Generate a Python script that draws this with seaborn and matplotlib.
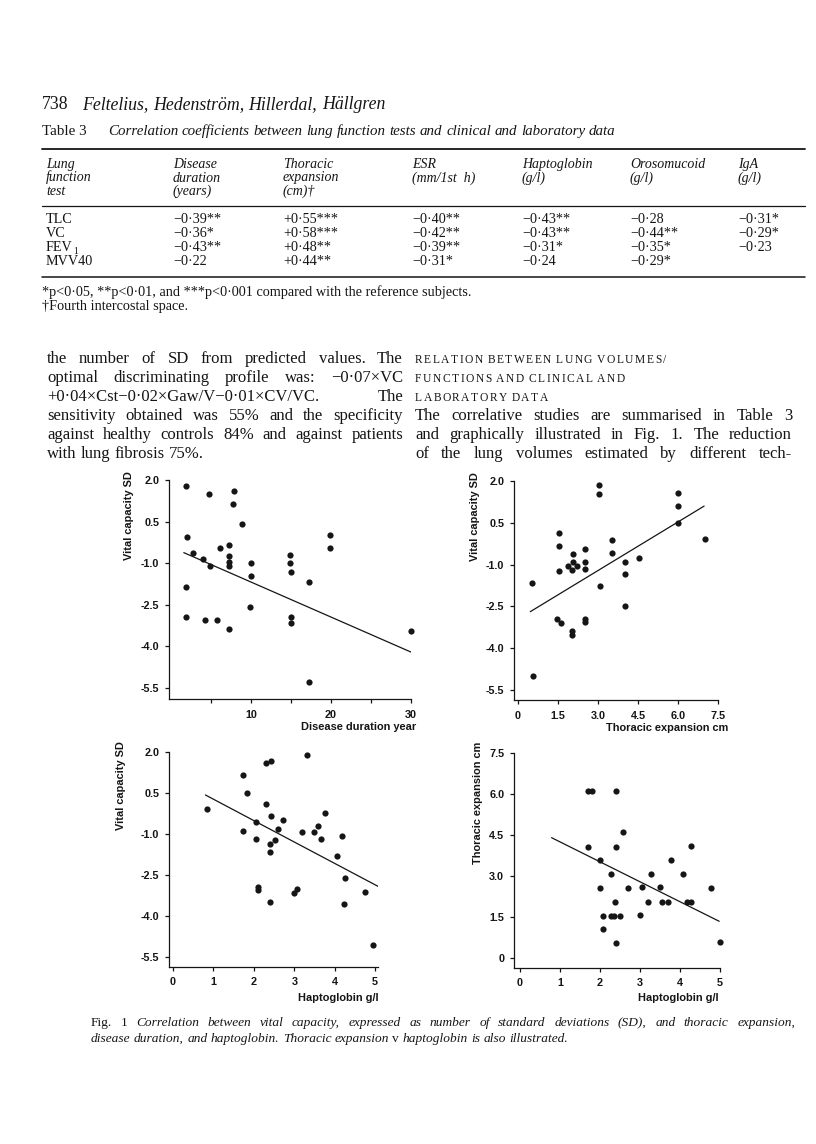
import matplotlib
matplotlib.use("Agg")
import matplotlib.pyplot as plt
import seaborn as sns
from matplotlib.lines import Line2D
from matplotlib.ticker import FixedLocator

# ---------------- data ----------------
# Panel A: disease duration (years) vs vital capacity (SD)
dur_x = [1.9, 2.0, 2.8, 4.0, 1.9, 1.9, 4.2, 4.8, 4.9, 5.8, 6.1, 7.25, 7.25, 7.25, 7.25, 7.2,
         7.9, 7.8, 8.9, 10.0, 10.0, 9.9, 14.9, 14.9, 15.0, 15.0, 15.0, 17.2, 17.2, 19.9, 19.9, 30.0]
dur_vc = [1.8, -0.05, -0.64, -0.86, -1.86, -2.94, -3.04, 1.5, -1.12, -3.04, -0.46, -0.33, -0.74, -0.94, -1.1, -3.38,
          1.6, 1.12, 0.4, -1.0, -1.47, -2.57, -0.72, -1.0, -1.32, -2.93, -3.17, -1.67, -5.27, 0.0, -0.46, -3.44]
dur_fit_x = [1.6, 30.1]
dur_fit_y = [-0.62, -4.22]

# Panel B: thoracic expansion (cm) vs vital capacity (SD)
thx_x = [0.54, 0.56, 1.55, 1.55, 1.54, 1.46, 1.63, 2.05, 2.05, 1.89, 2.04, 2.2, 2.03, 2.03, 2.53, 2.53,
         2.53, 2.53, 2.53, 3.04, 3.04, 3.06, 3.53, 3.53, 4.0, 4.0, 4.0, 4.53, 6.0, 6.0, 6.0, 7.0]
thx_vc = [-1.65, -5.0, 0.15, -0.33, -1.22, -2.96, -3.1, -0.62, -0.9, -1.05, -1.19, -1.05, -3.38, -3.52, -0.45, -0.91,
          -1.17, -2.94, -3.07, 1.86, 1.52, -1.77, -0.12, -0.58, -0.91, -1.33, -2.49, -0.76, 1.58, 1.1, 0.5, -0.07]
thx_fit_x = [0.46, 6.98]
thx_fit_y = [-2.69, 1.10]

# Panel C: haptoglobin (g/l) vs vital capacity (SD)
hap_x = [0.84, 1.74, 1.82, 1.74, 2.04, 2.04, 2.1, 2.1, 2.31, 2.42, 2.4, 2.4, 2.52, 2.59, 2.71, 2.39,
         2.98, 3.07, 3.2, 3.49, 3.58, 3.66, 3.76, 4.18, 4.06, 4.25, 4.24, 4.75, 4.94, 2.31, 2.43, 3.31]
hap_vc = [-0.08, 1.16, 0.5, -0.9, -0.57, -1.19, -2.92, -3.04, 0.1, -0.35, -1.35, -1.67, -1.23, -0.8, -0.49, -3.47,
          -3.16, -3.0, -0.94, -0.94, -0.7, -1.18, -0.23, -1.08, -1.82, -2.61, -3.54, -3.11, -5.07, 1.58, 1.66, 1.89]
hap_fit_x = [0.8, 5.12]
hap_fit_y = [0.43, -2.95]

# Panel D: haptoglobin (g/l) vs thoracic expansion (cm)
hap2_x = [1.71, 1.81, 2.41, 1.71, 2.58, 2.4, 2.0, 2.0, 2.28, 2.08, 2.08, 2.27, 2.36, 2.5, 2.38, 2.39,
          2.69, 3.0, 3.06, 3.28, 3.19, 3.49, 3.55, 3.69, 3.77, 4.07, 4.18, 4.28, 4.27, 4.78, 4.99]
hap2_th = [6.1, 6.1, 6.1, 4.07, 4.59, 4.06, 3.57, 2.56, 3.07, 1.54, 1.04, 1.54, 1.54, 1.54, 2.06, 0.54,
           2.56, 1.56, 2.59, 3.07, 2.06, 2.59, 2.06, 2.06, 3.57, 3.07, 2.06, 2.05, 4.1, 2.55, 0.57]
hap2_fit_x = [0.79, 4.98]
hap2_fit_y = [4.40, 1.34]

# tick labels
vc_ticks = [2.0, 0.5, -1.0, -2.5, -4.0, -5.5]
vc_labels = ["2.0", "0.5", "-1.0", "-2.5", "-4.0", "-5.5"]
dur_ticks = [10, 20, 30]
dur_labels = ["10", "20", "30"]
dur_minor = [5, 15, 25]
thx_ticks = [0, 1.5, 3.0, 4.5, 6.0, 7.5]
thx_labels = ["0", "1.5", "3.0", "4.5", "6.0", "7.5"]
hap_ticks = [0, 1, 2, 3, 4, 5]
hap_labels = ["0", "1", "2", "3", "4", "5"]

# table 3
tab_head = [["Lung", "function", "test"], ["Disease", "duration", "(years)"],
            ["Thoracic", "expansion", "(cm)†"], ["ESR", "(mm/1st  h)"],
            ["Haptoglobin", "(g/l)"], ["Orosomucoid", "(g/l)"], ["IgA", "(g/l)"]]
tab_rows = ["TLC", "VC", "FEV", "MVV40"]
tab_disease = ["−0·39**", "−0·36*", "−0·43**", "−0·22"]
tab_thoracic = ["+0·55***", "+0·58***", "+0·48**", "+0·44**"]
tab_esr = ["−0·40**", "−0·42**", "−0·39**", "−0·31*"]
tab_hapto = ["−0·43**", "−0·43**", "−0·31*", "−0·24"]
tab_oroso = ["−0·28", "−0·44**", "−0·35*", "−0·29*"]
tab_iga = ["−0·31*", "−0·29*", "−0·23", ""]

# ---------------- figure ----------------
sns.set_style("ticks")
plt.rcParams["font.family"] = ["Liberation Sans", "DejaVu Sans"]
W, H = 816, 1144
fig = plt.figure(figsize=(W / 100, H / 100), dpi=100, facecolor="white")
INK = "#151515"
SERIF = ["Liberation Serif", "DejaVu Serif"]
SANS = ["Liberation Sans", "DejaVu Sans"]


def add_ax(l, r, t, b):
    return fig.add_axes([l / W, 1 - b / H, (r - l) / W, (b - t) / H])


def style_ax(ax, xpad, ypad=4):
    sns.despine(ax=ax)
    for s in ("left", "bottom"):
        ax.spines[s].set_linewidth(0.9)
        ax.spines[s].set_color(INK)
    ax.tick_params(which="both", direction="out", length=3, width=0.9, color=INK,
                   labelsize=7.8, labelcolor=INK)
    ax.tick_params(axis="x", which="both", pad=xpad)
    ax.tick_params(axis="y", which="both", pad=ypad)
    for lab in ax.get_xticklabels() + ax.get_yticklabels():
        lab.set_fontweight("bold")
        lab.set_family(SANS)
    ax.set_facecolor("none")


def draw_panel(ax, x, y, fx, fy):
    sns.scatterplot(x=x, y=y, color=INK, s=20, linewidth=0, ax=ax, clip_on=False, zorder=3)
    sns.lineplot(x=fx, y=fy, color=INK, lw=0.9, ax=ax, zorder=2)


def labels(ax, xl, yl, xlc, ylc):
    ax.set_xlabel(xl, loc="right", fontsize=7.9, fontweight="bold", color=INK, family=SANS)
    ax.set_ylabel(yl, loc="top", fontsize=7.9, fontweight="bold", color=INK, family=SANS)
    ax.xaxis.set_label_coords(*xlc)
    ax.yaxis.set_label_coords(*ylc)


# Panel A
axA = add_ax(169, 411, 480, 699)
draw_panel(axA, dur_x, dur_vc, dur_fit_x, dur_fit_y)
axA.set_xlim(-0.25, 30)
axA.set_ylim(-5.9, 2.0)
axA.xaxis.set_major_locator(FixedLocator(dur_ticks))
axA.set_xticklabels(dur_labels)
axA.xaxis.set_minor_locator(FixedLocator(dur_minor))
axA.set_yticks(vc_ticks)
axA.set_yticklabels(vc_labels)
style_ax(axA, 5)
labels(axA, "Disease duration year", "Vital capacity SD", (1.021, -0.105), (-0.145, 1.04))

# Panel B
axB = add_ax(514, 718, 481, 700)
draw_panel(axB, thx_x, thx_vc, thx_fit_x, thx_fit_y)
axB.set_xlim(-0.15, 7.5)
axB.set_ylim(-5.86, 2.0)
axB.set_xticks(thx_ticks)
axB.set_xticklabels(thx_labels)
axB.set_yticks(vc_ticks)
axB.set_yticklabels(vc_labels)
style_ax(axB, 5)
labels(axB, "Thoracic expansion cm", "Vital capacity SD", (1.049, -0.105), (-0.167, 1.04))

# Panel C
axC = add_ax(169, 378, 752, 967)
draw_panel(axC, hap_x, hap_vc, hap_fit_x, hap_fit_y)
axC.set_xlim(-0.1, 5.07)
axC.set_ylim(-5.86, 2.0)
axC.set_xticks(hap_ticks)
axC.set_xticklabels(hap_labels)
axC.set_yticks(vc_ticks)
axC.set_yticklabels(vc_labels)
style_ax(axC, 4)
labels(axC, "Haptoglobin g/l", "Vital capacity SD", (1.005, -0.121), (-0.206, 1.05))

# Panel D
axD = add_ax(514, 720, 753, 968)
draw_panel(axD, hap2_x, hap2_th, hap2_fit_x, hap2_fit_y)
axD.set_xlim(-0.15, 5.0)
axD.set_ylim(-0.37, 7.5)
axD.set_xticks(hap_ticks)
axD.set_xticklabels(hap_labels)
axD.set_yticks(thx_ticks)
axD.set_yticklabels(thx_labels)
style_ax(axD, 4)
labels(axD, "Haptoglobin g/l", "Thoracic expansion cm", (0.995, -0.116), (-0.150, 1.05))

# ---------------- page text ----------------
renderer = fig.canvas.get_renderer()


def text_w(s, **kw):
    t = fig.text(0, 0, s, **kw)
    w = t.get_window_extent(renderer).width
    t.remove()
    return w


def put(x, y, s, **kw):
    kw.setdefault("color", INK)
    kw.setdefault("family", SERIF)
    return fig.text(x / W, 1 - y / H, s, va="baseline", **kw)


def line(segs, x0, y, x1=None, **base):
    base.setdefault("family", SERIF)
    tokens = []
    for txt, kw in segs:
        for wd in txt.split(" "):
            if wd:
                tokens.append((wd, {**base, **kw}))
    widths = [text_w(t, **k) for t, k in tokens]
    sp = text_w("a a", **base) - text_w("aa", **base)
    gap = sp
    if x1 is not None and len(tokens) > 1:
        g = (x1 - x0 - sum(widths)) / (len(tokens) - 1)
        if g > 0.5 * sp:
            gap = g
    x = x0
    for (t, k), w in zip(tokens, widths):
        put(x, y, t, **k)
        x += w + gap


def tracked(s, x, y, track, **kw):
    kw.setdefault("family", SERIF)
    sp = text_w("A A", **kw) - text_w("AA", **kw)
    for ch in s:
        if ch == " ":
            x += sp + track
            continue
        put(x, y, ch, **kw)
        x += text_w(ch, **kw) + track


def rule(x0, x1, y, lw):
    fig.add_artist(Line2D([x0 / W, x1 / W], [1 - y / H, 1 - y / H], transform=fig.transFigure,
                          color=INK, lw=lw))


LX, RX = 42, 805
# running head
put(LX, 109, "738", fontsize=12.8)
line([("Feltelius, Hedenström, Hillerdal, Hällgren", {"style": "italic"})], LX + 40, 109, fontsize=12.8)
# table title
put(LX, 135, "Table 3", fontsize=10.8)
line([("Correlation coefficients between lung function tests and clinical and laboratory data",
       {"style": "italic"})], LX + 66, 135, fontsize=10.8)
rule(LX, RX, 149, 1.3)
cols = [LX + 4, 173, 283, 412, 522, 630, 738]
for cx, head in zip(cols, tab_head):
    for i, h in enumerate(head):
        put(cx, 168 + 13.5 * i, h, fontsize=10, style="italic")
rule(LX, RX, 206, 0.9)
row_y = [223, 237, 251, 265]
for i, name in enumerate(tab_rows):
    put(cols[0], row_y[i], name, fontsize=10.2)
    if name == "FEV":
        put(cols[0] + text_w("FEV", fontsize=10.2, family=SERIF) + 0.5, row_y[i] + 3, "1", fontsize=7)
    for cx, col in zip(cols[1:], [tab_disease, tab_thoracic, tab_esr, tab_hapto, tab_oroso, tab_iga]):
        put(cx, row_y[i], col[i], fontsize=10.2)
rule(LX, RX, 277, 1.1)
put(LX, 296, "*p<0·05, **p<0·01, and ***p<0·001 compared with the reference subjects.", fontsize=10.3)
put(LX, 310, "†Fourth intercostal space.", fontsize=10.3)

# two-column body text
L0, L1, R0, R1 = 47, 403, 415, 792
base_y = [363, 382, 401, 420, 439, 458]
left_lines = ["the number of SD from predicted values. The",
              "optimal discriminating profile was: −0·07×VC",
              "+0·04×Cst−0·02×Gaw/V−0·01×CV/VC.  The",
              "sensitivity obtained was 55% and the specificity",
              "against healthy controls 84% and against patients",
              "with lung fibrosis 75%."]
for i, t in enumerate(left_lines):
    line([(t, {})], L0, base_y[i], L1 if i < 5 else None, fontsize=12)
heads = ["RELATION BETWEEN LUNG VOLUMES/", "FUNCTIONS AND CLINICAL AND", "LABORATORY DATA"]
for i, t in enumerate(heads):
    tracked(t, R0, base_y[i], 1.5, fontsize=8.3)
right_lines = ["The correlative studies are summarised in Table 3",
               "and graphically illustrated in Fig. 1. The reduction",
               "of the lung volumes estimated by different tech-"]
for i, t in enumerate(right_lines):
    line([(t, {})], R0, base_y[3 + i], R1, fontsize=12)

# caption
line([("Fig. 1", {}), ("Correlation between vital capacity, expressed as number of standard deviations (SD), "
                       "and thoracic expansion,", {"style": "italic"})], 91, 1026, 795, fontsize=9.6)
line([("disease duration, and haptoglobin. Thoracic expansion", {"style": "italic"}), ("v", {}),
      ("haptoglobin is also illustrated.", {"style": "italic"})], 91, 1042, fontsize=9.6)

fig.savefig("out.png", dpi=100, facecolor="white")
